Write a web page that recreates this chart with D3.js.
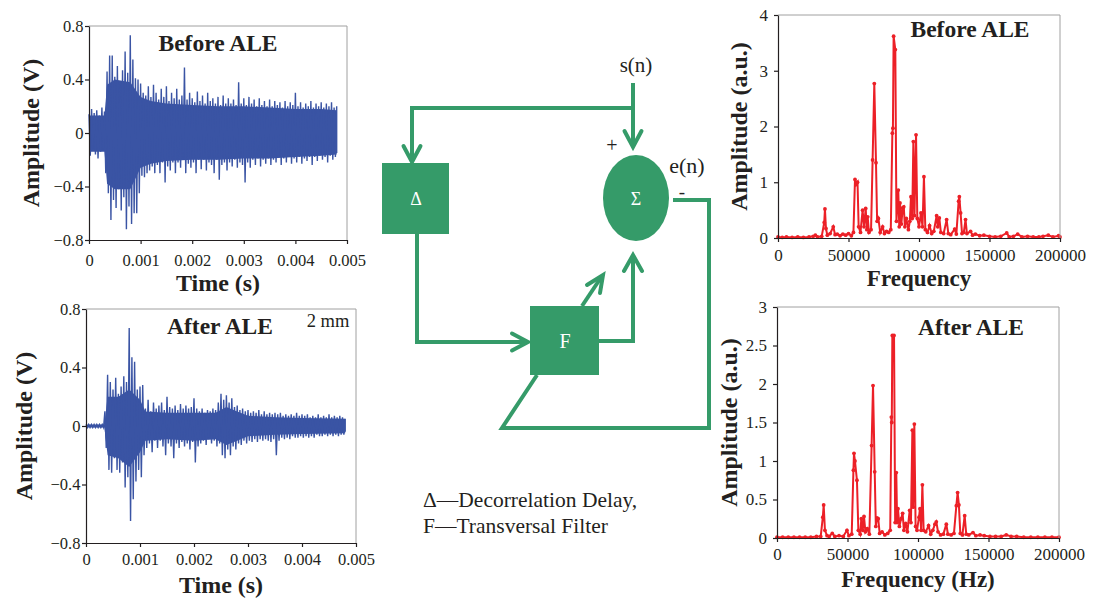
<!doctype html>
<html>
<head>
<meta charset="UTF-8">
<title>ALE before / after</title>
<script src="https://d3js.org/d3.v7.min.js"></script>
<style>
body{margin:0;background:#fff;}
svg text{font-family:"Liberation Serif","Times New Roman",serif;fill:#231f20;}
.axis path,.axis line{stroke:#231f20;stroke-width:1.2;}
.axis text{font-size:16.5px;}
.spec .axis text{font-size:17px;}
.ttl{font-weight:bold;font-size:23.5px;}
.lbl{font-weight:bold;font-size:24px;}
</style>
</head>
<body>
<script>
// tick values
var timeTicks = [0, 0.001, 0.002, 0.003, 0.004, 0.005];
var voltTicks = [-0.8, -0.4, 0, 0.4, 0.8];
var freqTicks = [0, 50000, 100000, 150000, 200000];
var ampTicksBefore = [0, 1, 2, 3, 4];
var ampTicksAfter = [0, 0.5, 1, 1.5, 2, 2.5, 3];

// waveform peaks, one max/min pair per 0.00005 s bin
var binWidth = 0.00005;
var beforeHi = [0.14,0.18,0.15,0.17,0.13,0.19,0.16,0.46,0.58,0.58,0.42,0.50,0.36,0.47,0.61,0.45,0.73,0.55,0.41,0.40,
  0.37,0.30,0.28,0.35,0.27,0.36,0.30,0.25,0.33,0.27,0.35,0.24,0.30,0.26,0.33,0.25,0.28,0.49,0.25,0.30,
  0.26,0.23,0.31,0.24,0.28,0.22,0.30,0.24,0.26,0.22,0.27,0.21,0.28,0.22,0.26,0.22,0.25,0.21,0.38,0.22,
  0.26,0.21,0.27,0.22,0.25,0.20,0.26,0.21,0.24,0.20,0.25,0.20,0.24,0.21,0.23,0.19,0.24,0.20,0.23,0.21,
  0.30,0.20,0.23,0.19,0.22,0.20,0.24,0.19,0.22,0.20,0.23,0.19,0.22,0.20,0.23,0.19,0.20];
var beforeLo = [-0.17,-0.12,-0.16,-0.19,-0.14,-0.13,-0.30,-0.45,-0.65,-0.50,-0.56,-0.42,-0.58,-0.48,-0.72,-0.55,-0.68,-0.60,-0.60,-0.45,
  -0.32,-0.33,-0.30,-0.28,-0.25,-0.30,-0.24,-0.30,-0.22,-0.37,-0.25,-0.28,-0.22,-0.30,-0.22,-0.26,-0.20,-0.30,-0.23,-0.26,
  -0.22,-0.30,-0.20,-0.27,-0.20,-0.28,-0.22,-0.24,-0.30,-0.20,-0.35,-0.24,-0.22,-0.28,-0.22,-0.25,-0.20,-0.26,-0.22,-0.24,
  -0.37,-0.22,-0.26,-0.20,-0.24,-0.19,-0.25,-0.20,-0.23,-0.19,-0.24,-0.20,-0.22,-0.18,-0.24,-0.19,-0.22,-0.18,-0.23,-0.19,
  -0.22,-0.18,-0.23,-0.19,-0.21,-0.18,-0.24,-0.18,-0.21,-0.17,-0.20,-0.18,-0.22,-0.17,-0.20,-0.18,-0.15];
var afterHi = [0.01,0.01,0.01,0.01,0.01,0.01,0.01,0.10,0.35,0.30,0.25,0.33,0.22,0.27,0.34,0.30,0.67,0.47,0.44,0.25,
  0.27,0.28,0.12,0.18,0.10,0.16,0.12,0.14,0.16,0.11,0.20,0.13,0.12,0.14,0.11,0.15,0.12,0.14,0.12,0.13,
  0.19,0.12,0.10,0.12,0.09,0.11,0.10,0.12,0.11,0.16,0.22,0.18,0.21,0.16,0.19,0.13,0.14,0.11,0.12,0.10,
  0.11,0.09,0.10,0.09,0.11,0.08,0.10,0.08,0.09,0.08,0.09,0.08,0.09,0.07,0.08,0.07,0.08,0.07,0.09,0.07,
  0.08,0.07,0.08,0.06,0.07,0.06,0.08,0.06,0.07,0.06,0.08,0.06,0.07,0.06,0.07,0.06,0.05];
var afterLo = [-0.01,-0.01,-0.01,-0.01,-0.01,-0.01,-0.01,-0.15,-0.30,-0.32,-0.22,-0.30,-0.32,-0.25,-0.42,-0.35,-0.65,-0.50,-0.38,-0.30,
  -0.35,-0.20,-0.15,-0.12,-0.18,-0.10,-0.15,-0.10,-0.14,-0.20,-0.12,-0.14,-0.22,-0.12,-0.15,-0.11,-0.14,-0.12,-0.16,-0.11,
  -0.25,-0.14,-0.12,-0.10,-0.13,-0.09,-0.12,-0.10,-0.14,-0.12,-0.20,-0.22,-0.16,-0.20,-0.14,-0.16,-0.12,-0.13,-0.10,-0.12,
  -0.10,-0.11,-0.09,-0.11,-0.09,-0.10,-0.09,-0.10,-0.11,-0.09,-0.20,-0.10,-0.08,-0.09,-0.08,-0.09,-0.07,-0.08,-0.08,-0.07,
  -0.08,-0.07,-0.08,-0.07,-0.08,-0.06,-0.07,-0.07,-0.06,-0.07,-0.06,-0.07,-0.06,-0.07,-0.06,-0.06,-0.04];

// dense core of each waveform (where the trace is solid)
var beforeCoreT  = [0, 0.0003, 0.00035, 0.0005, 0.0008, 0.001, 0.0012, 0.0015, 0.002, 0.0025, 0.003, 0.0035, 0.004, 0.0045, 0.0048];
var beforeCoreHi = [0.13, 0.13, 0.36, 0.40, 0.38, 0.27, 0.24, 0.22, 0.21, 0.20, 0.20, 0.19, 0.18, 0.18, 0.17];
var beforeCoreLo = [-0.14, -0.14, -0.38, -0.42, -0.42, -0.26, -0.23, -0.21, -0.20, -0.20, -0.19, -0.19, -0.18, -0.17, -0.16];
var afterCoreT  = [0, 0.00034, 0.0004, 0.0006, 0.0008, 0.001, 0.0011, 0.0015, 0.002, 0.0024, 0.0026, 0.0028, 0.003, 0.0035, 0.004, 0.0048];
var afterCoreHi = [0.01, 0.01, 0.20, 0.20, 0.25, 0.18, 0.10, 0.09, 0.09, 0.09, 0.13, 0.10, 0.07, 0.06, 0.055, 0.05];
var afterCoreLo = [-0.01, -0.01, -0.20, -0.22, -0.28, -0.18, -0.10, -0.09, -0.10, -0.09, -0.13, -0.10, -0.07, -0.06, -0.055, -0.05];

// spectra: [frequency (Hz), amplitude (a.u.)]
var spectrumBefore = [[0,0.02],[3000,0.01],[6000,0.02],[10000,0.01],[14000,0.02],[18000,0.01],[22000,0.02],[25000,0.03],
  [26500,0.05],[28000,0.02],[31000,0.03],[32800,0.28],[33300,0.52],[34000,0.17],[35000,0.05],[37000,0.08],[39200,0.2],
  [40500,0.06],[42000,0.07],[44000,0.04],[46000,0.07],[48000,0.05],[50000,0.08],[52000,0.04],[53500,0.1],[54600,1.05],
  [55400,0.96],[56400,1.0],[57200,0.2],[58500,0.1],[60000,0.5],[61000,0.2],[62200,0.53],[63000,0.15],[63600,0.38],
  [64500,0.1],[66000,0.15],[67100,1.4],[68300,2.77],[69500,1.35],[70300,0.3],[71200,0.35],[72500,0.1],[74200,0.2],
  [75500,0.08],[77000,0.12],[78500,0.1],[80000,0.15],[81100,1.88],[81500,1.97],[82000,3.62],[83200,3.38],[84000,0.3],
  [85300,0.86],[86000,0.2],[86500,0.63],[87500,0.25],[88400,0.54],[89200,0.56],[90000,0.2],[91000,0.35],[92500,0.15],
  [93500,0.3],[94300,0.74],[95200,0.35],[96000,1.73],[96800,0.4],[97900,1.85],[98800,0.35],[100000,0.2],[101400,0.45],
  [102500,0.2],[103500,1.1],[104500,0.15],[106000,0.1],[107500,0.22],[109000,0.08],[110500,0.12],[112500,0.4],
  [113300,0.2],[114400,0.36],[115500,0.1],[117500,0.08],[119600,0.33],[120800,0.08],[122500,0.06],[125300,0.16],
  [126500,0.07],[128100,0.66],[128600,0.74],[129500,0.45],[130500,0.08],[131800,0.1],[133000,0.33],[134000,0.08],
  [136600,0.12],[138000,0.05],[140000,0.07],[143000,0.04],[146000,0.05],[150000,0.03],[154000,0.02],[158000,0.03],
  [162200,0.09],[164000,0.02],[167000,0.03],[170000,0.07],[173000,0.02],[177000,0.03],[181000,0.02],[185000,0.02],
  [188000,0.03],[191700,0.05],[195000,0.02],[199000,0.04],[200000,0.02]];
var spectrumAfter = [[0,0.01],[4000,0.01],[8000,0.01],[12000,0.01],[16000,0.01],[20000,0.01],[24000,0.01],[28000,0.02],
  [31000,0.02],[32500,0.27],[33100,0.43],[34000,0.1],[35500,0.03],[37000,0.02],[39200,0.06],[41000,0.02],[44000,0.03],
  [47000,0.02],[49600,0.1],[51000,0.03],[53000,0.05],[54200,0.88],[54600,1.1],[55300,1.0],[56700,0.75],[57700,0.1],
  [59000,0.05],[59800,0.25],[60800,0.1],[61700,0.28],[62700,0.08],[64000,0.12],[65500,0.05],[67100,1.2],[68100,1.98],
  [69300,0.86],[70100,0.15],[70900,0.26],[71800,0.25],[72800,0.06],[74500,0.08],[76500,0.04],[78500,0.06],[80300,0.1],
  [81100,1.57],[81400,1.5],[81800,2.63],[83000,2.63],[83800,0.2],[84600,0.85],[85200,0.2],[85800,0.38],[86800,0.15],
  [88000,0.25],[89100,0.32],[90000,0.1],[91300,0.19],[92500,0.08],[94100,0.36],[95000,0.2],[96000,1.4],[96600,0.4],
  [97400,1.48],[98300,0.15],[99300,0.1],[100700,0.27],[101400,0.38],[102200,0.1],[103100,0.69],[104000,0.1],
  [105500,0.08],[107500,0.16],[109000,0.05],[110500,0.1],[112000,0.18],[113000,0.21],[114200,0.08],[116000,0.04],
  [118000,0.05],[120100,0.18],[121200,0.05],[123500,0.04],[125500,0.06],[127200,0.42],[128100,0.59],[129000,0.43],
  [130000,0.06],[131500,0.04],[133100,0.29],[134200,0.05],[136000,0.04],[139000,0.07],[141000,0.03],[144000,0.04],
  [147000,0.03],[151000,0.02],[155000,0.02],[159000,0.02],[162600,0.04],[166000,0.02],[170000,0.02],[175000,0.01],
  [180000,0.01],[185000,0.01],[190000,0.01],[195000,0.01],[200000,0.01]];

var blue = "#3a54a4", red = "#ec2027", green = "#359b69";

var svg = d3.select("body").append("svg")
    .attr("width", 1104)
    .attr("height", 602);

// fmt helpers
function fmtNum(dec){
    var f = d3.format("." + dec + "f");
    return function(d){ return d === 0 ? "0" : f(d); };
}

// axes + grey frame for one panel
function drawPanel(g, x, y, xTicks, yTicks, xFmt, yFmt, xPad, yPad){
    var xr = x.range(), yr = y.range();
    g.append("path")
        .attr("d", "M" + xr[0] + "," + yr[1] + "H" + xr[1] + "V" + yr[0])
        .attr("fill", "none").attr("stroke", "#a0a0a0").attr("stroke-width", 1);
    g.append("g").attr("class", "axis")
        .attr("transform", "translate(0," + yr[0] + ")")
        .call(d3.axisBottom(x).tickValues(xTicks).tickFormat(xFmt).tickSize(4).tickSizeOuter(0).tickPadding(xPad));
    g.append("g").attr("class", "axis")
        .attr("transform", "translate(" + xr[0] + ",0)")
        .call(d3.axisLeft(y).tickValues(yTicks).tickFormat(yFmt).tickSize(4).tickSizeOuter(0).tickPadding(yPad));
    // drop d3's sans-serif default so the serif face applies
    g.selectAll(".axis").attr("font-family", null).attr("font-size", null);
}

function zigzag(hi, lo){
    var pts = [];
    hi.forEach(function(h, i){
        pts.push([i * binWidth, h]);
        pts.push([Math.min((i + 0.5) * binWidth, 0.0048), lo[i]]);
    });
    return pts;
}

function waveform(x0, x1, yBot, yTop, hi, lo, coreT, coreHi, coreLo, title, titleX, titleY, labelY, axisLblX, xPad){
    var g = svg.append("g");
    var x = d3.scaleLinear().domain([0, 0.005]).range([x0, x1]);
    var y = d3.scaleLinear().domain([-0.8, 0.8]).range([yBot, yTop]);
    // solid core
    var band = d3.area()
        .x(function(d, i){ return x(coreT[i]); })
        .y0(function(d, i){ return y(coreLo[i]); })
        .y1(function(d){ return y(d); });
    g.append("path").attr("d", band(coreHi)).attr("fill", blue);
    // spikes out to the peak values
    var line = d3.line().x(function(d){ return x(d[0]); }).y(function(d){ return y(d[1]); });
    g.append("path")
        .attr("d", line(zigzag(hi, lo)))
        .attr("fill", "none").attr("stroke", blue).attr("stroke-width", 1.4);
    drawPanel(g, x, y, timeTicks, voltTicks, fmtNum(3), fmtNum(1), xPad, 1.5);
    g.append("text").attr("class", "ttl").attr("text-anchor", "middle")
        .attr("x", titleX).attr("y", titleY).text(title);
    g.append("text").attr("class", "lbl").attr("text-anchor", "middle")
        .attr("x", (x0 + x1) / 2).attr("y", labelY).text("Time (s)");
    g.append("text").attr("class", "lbl").attr("text-anchor", "middle")
        .attr("transform", "translate(" + axisLblX + "," + ((yTop + yBot) / 2) + ")rotate(-90)")
        .attr("dy", "0.32em").text("Amplitude (V)");
    return g;
}

function spectrum(x0, x1, yBot, yTop, yMax, yTicks, data, title, titleX, titleY, xLbl, labelY, axisLblX, xPad){
    var g = svg.append("g").attr("class", "spec");
    var x = d3.scaleLinear().domain([0, 200000]).range([x0, x1]);
    var y = d3.scaleLinear().domain([0, yMax]).range([yBot, yTop]);
    var line = d3.line().x(function(d){ return x(d[0]); }).y(function(d){ return y(d[1]); });
    g.append("path").attr("d", line(data))
        .attr("fill", "none").attr("stroke", red).attr("stroke-width", 2);
    g.selectAll("circle").data(data).enter().append("circle")
        .attr("cx", function(d){ return x(d[0]); })
        .attr("cy", function(d){ return y(d[1]); })
        .attr("r", 1.9).attr("fill", red);
    drawPanel(g, x, y, freqTicks, yTicks, d3.format("d"), function(d){ return String(d); }, xPad, 6);
    g.append("text").attr("class", "ttl").attr("text-anchor", "middle")
        .attr("x", titleX).attr("y", titleY).text(title);
    g.append("text").attr("class", "lbl").attr("text-anchor", "middle")
        .attr("x", (x0 + x1) / 2).attr("y", labelY).style("font-size", "23px").text(xLbl);
    g.append("text").attr("class", "lbl").attr("text-anchor", "middle")
        .attr("transform", "translate(" + axisLblX + "," + ((yTop + yBot) / 2) + ")rotate(-90)")
        .attr("dy", "0.32em").text("Amplitude (a.u.)");
}

waveform(89, 347, 240, 26, beforeHi, beforeLo, beforeCoreT, beforeCoreHi, beforeCoreLo,
    "Before ALE", 218, 51, 291, 31, 10);
var gAfter = waveform(86, 356, 543, 309, afterHi, afterLo, afterCoreT, afterCoreHi, afterCoreLo,
    "After ALE", 220, 334, 593, 24, 6);
gAfter.append("text").attr("x", 328).attr("y", 327).attr("text-anchor", "middle")
    .style("font-size", "18.5px").text("2 mm");

spectrum(778, 1060, 238, 15, 4, ampTicksBefore, spectrumBefore, "Before ALE", 970, 37, "Frequency", 286, 739, 7);
spectrum(777, 1059, 538, 307, 3, ampTicksAfter, spectrumAfter, "After ALE", 971, 335, "Frequency (Hz)", 587, 729, 6);

// block diagram
var dg = svg.append("g");
function wire(pts){
    dg.append("path").attr("d", d3.line()(pts))
        .attr("fill", "none").attr("stroke", green).attr("stroke-width", 4)
        .attr("stroke-linejoin", "miter").attr("stroke-linecap", "butt");
}
function head(a, tip, b){
    dg.append("path").attr("d", d3.line()([a, tip, b]))
        .attr("fill", "none").attr("stroke", green).attr("stroke-width", 4)
        .attr("stroke-linejoin", "miter").attr("stroke-linecap", "round");
}
// s(n) down to sum, branch to delay
wire([[633, 83], [633, 146]]);
head([624.5, 131], [633, 147], [641.5, 131]);
wire([[633, 108], [412, 108], [412, 161]]);
head([403.5, 146], [412, 162], [420.5, 146]);
// delay -> filter
wire([[417, 234], [417, 342], [527, 342]]);
head([512, 333.5], [528, 342], [512, 350.5]);
// filter -> sum
wire([[599, 341], [633, 341], [633, 256]]);
head([624, 271], [633, 255], [642, 271]);
// adaptation arrow through filter
wire([[582, 306], [602, 276]]);
head([587, 285], [603, 275], [600, 293]);
// error feedback
wire([[673, 200], [709, 200], [709, 428], [502, 428], [537, 375]]);

dg.append("rect").attr("x", 382).attr("y", 163).attr("width", 67).attr("height", 71).attr("fill", green);
dg.append("rect").attr("x", 530).attr("y", 306).attr("width", 69).attr("height", 69).attr("fill", green);
dg.append("ellipse").attr("cx", 636).attr("cy", 198).attr("rx", 33).attr("ry", 43).attr("fill", green);

function dtext(x, y, s, size, col){
    dg.append("text").attr("x", x).attr("y", y).attr("text-anchor", "middle")
        .style("font-size", size + "px").style("fill", col || "#231f20").text(s);
}
dtext(416, 205, "\u0394", 18, "#fff");
dtext(636, 205, "\u03a3", 18, "#fff");
dtext(565, 348, "F", 20, "#fff");
dtext(636, 72, "s(n)", 21);
dtext(687, 173, "e(n)", 22);
dtext(612, 152, "+", 20);
dtext(682, 198, "-", 19);

dg.append("text").attr("x", 423).attr("y", 507).style("font-size", "21.5px").text("\u0394\u2014Decorrelation Delay,");
dg.append("text").attr("x", 423).attr("y", 533).style("font-size", "21.5px").text("F\u2014Transversal Filter");
</script>
</body>
</html>
